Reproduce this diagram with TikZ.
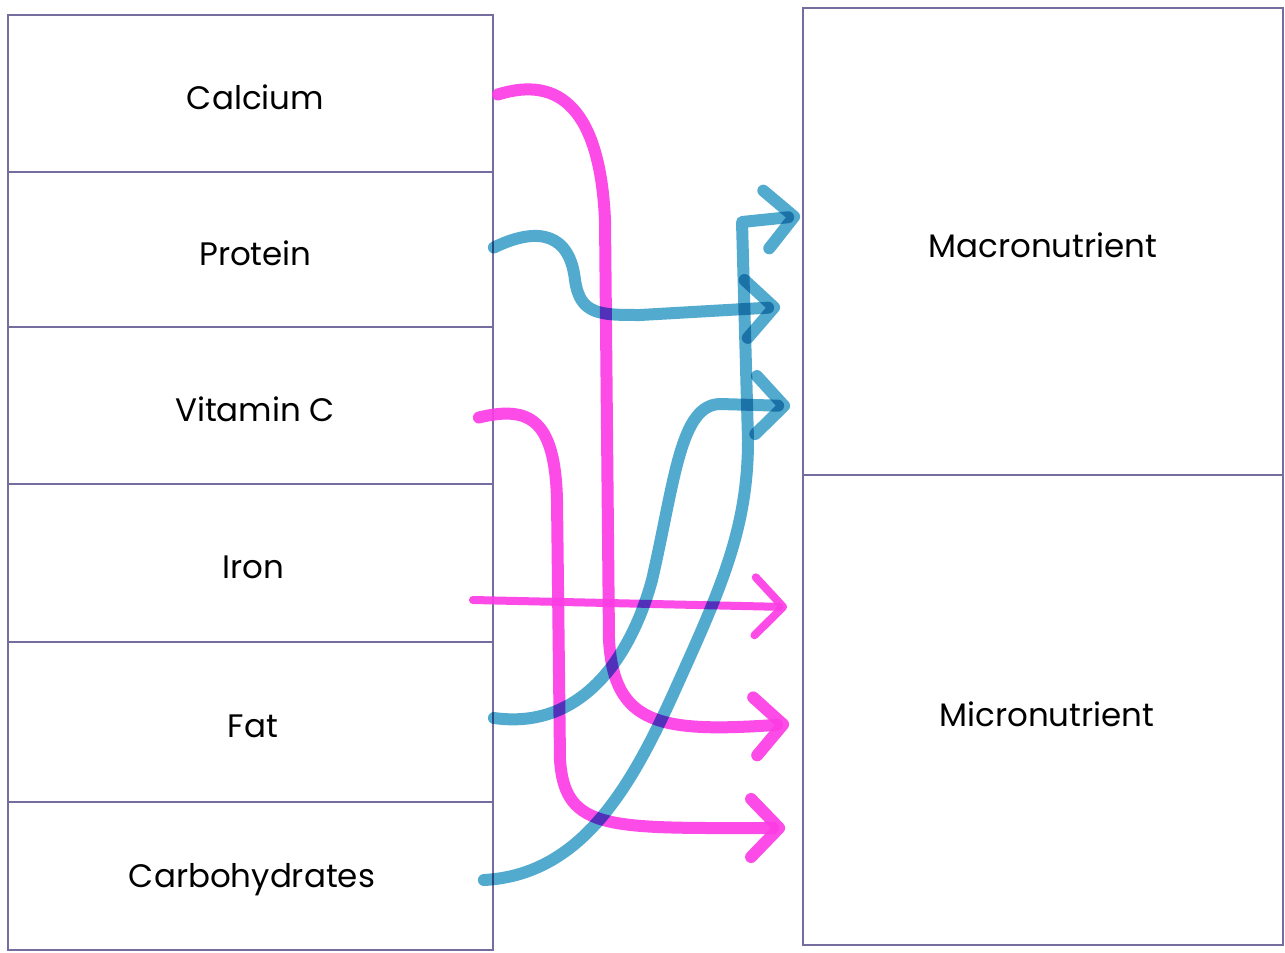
\documentclass[tikz,border=0pt]{standalone}
\usepackage{fontspec}
\setmainfont{Poppins}
\usetikzlibrary{arrows.meta,calc}
\definecolor{gridline}{RGB}{118,108,158}
\definecolor{pinkm}{RGB}{252,60,228}
\definecolor{bluem}{RGB}{64,162,202}
\newcommand{\lowtxt}[1]{\raisebox{-4pt}[\height][\depth]{#1}}
\tikzset{
  cell/.style={draw=gridline, line width=1.8pt, rectangle, inner sep=0pt,
    font=\fontsize{32.5}{38}\selectfont, text=black},
  marker/.style={line width=12pt, line cap=round, line join=round,
    -{Straight Barb[length=28pt,width=58pt,round]}},
  pinkpen/.style={marker, draw=pinkm, draw opacity=0.92},
  bluepen/.style={marker, draw=bluem, draw opacity=0.9, blend mode=multiply},
}
\begin{document}
\begin{tikzpicture}[x=1pt,y=-1pt]
\useasboundingbox[fill=white] (0,0) rectangle (1285,953);
% left column
\node[cell, minimum width=485, minimum height=157] (calcium) at (250.5,93.5) {\hspace*{10pt}\lowtxt{Calcium}};
\node[cell, minimum width=485, minimum height=155] (protein) at (250.5,249.5) {\hspace*{10pt}\lowtxt{Protein}};
\node[cell, minimum width=485, minimum height=157] (vitc) at (250.5,405.5) {\hspace*{9pt}\lowtxt{Vitamin C}};
\node[cell, minimum width=485, minimum height=158] (iron) at (250.5,563) {\hspace*{5pt}\lowtxt{Iron}};
\node[cell, minimum width=485, minimum height=160] (fat) at (250.5,722) {\hspace*{5pt}\lowtxt{Fat}};
\node[cell, minimum width=485, minimum height=148] (carbs) at (250.5,876) {\hspace*{3pt}\lowtxt{Carbohydrates}};
% right column
\node[cell, minimum width=480, minimum height=467] (macro) at (1043,241.5) {\lowtxt{Macronutrient}};
\node[cell, minimum width=480, minimum height=470] (micro) at (1043,710) {\hspace*{8pt}\lowtxt{Micronutrient}};
% arrow tips
\coordinate (tCarbs) at ($(macro.west)+(-2,-25.5)$);
\coordinate (tProt) at ($(macro.west)+(-22,65.5)$);
\coordinate (tFat) at ($(macro.west)+(-12,164.5)$);
\coordinate (tIron) at ($(micro.west)+(-15,-103)$);
\coordinate (tCalc) at ($(micro.west)+(-13,14)$);
\coordinate (tVitc) at ($(micro.west)+(-17,118)$);
% pink connectors
\draw[pinkpen] ($(calcium.east)+(4,1)$) .. controls (560,75) and (600,110) .. (605,220)
  -- (609,640) .. controls (614,725) and (660,733) .. (tCalc);
\draw[pinkpen] ($(vitc.east)+(-15,12)$) .. controls (530,405) and (555,420) .. (557,500)
  -- (560,760) .. controls (565,832) and (610,828) .. (tVitc);
\draw[pinkpen, line width=8pt] ($(iron.east)+(-21,37)$) -- (tIron);
% blue connectors
\draw[bluepen] ($(protein.east)+(0,-2)$) .. controls (540,225) and (570,235) .. (575,280)
  .. controls (580,315) and (600,315) .. (640,315) -- (tProt);
\draw[bluepen] ($(carbs.east)+(-10,4)$) .. controls (580,875) and (630,790) .. (675,690)
  .. controls (720,590) and (748,530) .. (748,440) -- (742,222) -- (tCarbs);
\draw[bluepen] ($(fat.east)+(0,-4)$) .. controls (580,730) and (630,660) .. (652,580)
  .. controls (675,480) and (680,405) .. (720,404) -- (tFat);
\end{tikzpicture}
\end{document}
